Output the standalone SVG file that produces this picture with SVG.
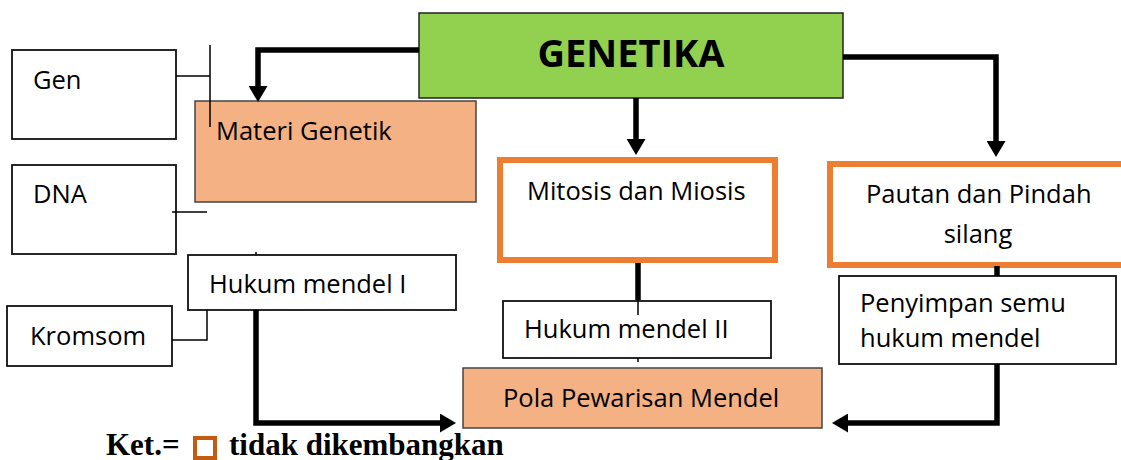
<svg xmlns="http://www.w3.org/2000/svg" width="1121" height="460" viewBox="0 0 1121 460">
<defs>
<style>
.lbl{font-family:"Open Sans","Liberation Sans",sans-serif;font-size:25.5px;fill:#000}
.box{fill:#fff;stroke:#111;stroke-width:1.8}
.peach{fill:#F4B183;stroke:#444;stroke-width:1.5}
.orange{fill:#fff;stroke:#ED7D31;stroke-width:6}
.thick{fill:none;stroke:#000;stroke-width:5.5}
.thin{fill:none;stroke:#000;stroke-width:1.5}
.leg{font-family:"Liberation Serif",serif;font-weight:bold;font-size:31px;fill:#000}
</style>
<marker id="ah" viewBox="0 0 16 19" markerWidth="16" markerHeight="19" markerUnits="userSpaceOnUse" refX="4" refY="9.5" orient="auto">
<path d="M0,0 L16,9.5 L0,19 z" fill="#000"/>
</marker>
</defs>
<rect width="1121" height="460" fill="#fff"/>

<g id="gen"><rect class="box" x="12" y="50" width="164" height="89"/><text class="lbl" x="33" y="89">Gen</text></g>
<g id="dna"><rect class="box" x="12" y="165" width="164" height="89"/><text class="lbl" x="33" y="203">DNA</text></g>
<g id="kromsom"><rect class="box" x="7" y="306" width="165" height="60"/><text class="lbl" x="30" y="345">Kromsom</text></g>
<g id="materi"><rect class="peach" x="195" y="101" width="281" height="101"/><text class="lbl" x="216" y="140">Materi Genetik</text></g>
<g id="genetika"><rect x="419" y="13" width="424" height="85" fill="#92D050" stroke="#222" stroke-width="1.5"/><text x="631" y="67" text-anchor="middle" font-family="Open Sans, Liberation Sans, sans-serif" font-weight="bold" font-size="38">GENETIKA</text></g>
<g id="mitosis"><rect class="orange" x="500" y="160" width="275" height="100"/><text class="lbl" x="527" y="200">Mitosis dan Miosis</text></g>
<g id="pautan"><rect class="orange" x="830" y="164" width="300" height="101"/><text class="lbl" x="866" y="203">Pautan dan Pindah</text><text class="lbl" x="978" y="243" text-anchor="middle">silang</text></g>
<g id="hukum1"><rect class="box" x="188" y="255" width="268" height="55"/><text class="lbl" x="209" y="293">Hukum mendel I</text></g>
<g id="hukum2"><rect class="box" x="503" y="301" width="268" height="57"/><text class="lbl" x="524" y="338">Hukum mendel II</text></g>
<g id="penyimpan"><rect class="box" x="839" y="276" width="277" height="88"/><text class="lbl" x="860" y="312">Penyimpan semu</text><text class="lbl" x="860" y="347">hukum mendel</text></g>
<g id="pola"><rect class="peach" x="463" y="368" width="359" height="60"/><text class="lbl" x="503" y="407">Pola Pewarisan Mendel</text></g>

<g id="connectors">
<path class="thin" d="M210,45 V127 M176,76 H210"/>
<path class="thin" d="M172,212 H207"/>
<path class="thin" d="M172,340 H207 V310"/>
<path class="thick" d="M419,50 H258 V90" marker-end="url(#ah)"/>
<path class="thick" d="M636,98 V143" marker-end="url(#ah)"/>
<path class="thick" d="M843,57 H996 V145" marker-end="url(#ah)"/>
<path class="thick" d="M638,263 V300"/>
<path class="thin" d="M638,300 V315 M638,358 V362"/>
<path class="thick" d="M997,266 V276"/>
<path class="thin" d="M256,252 V255"/>
<path class="thick" d="M256,310 V423 H444" marker-end="url(#ah)"/>
<path class="thick" d="M997,364 V423 H844" marker-end="url(#ah)"/>
</g>

<g id="legend">
<text class="leg" x="106" y="455">Ket.=</text>
<rect x="195" y="438" width="20" height="20" fill="#fff" stroke="#C55A11" stroke-width="4"/>
<text class="leg" x="229" y="455">tidak dikembangkan</text>
</g>
</svg>
